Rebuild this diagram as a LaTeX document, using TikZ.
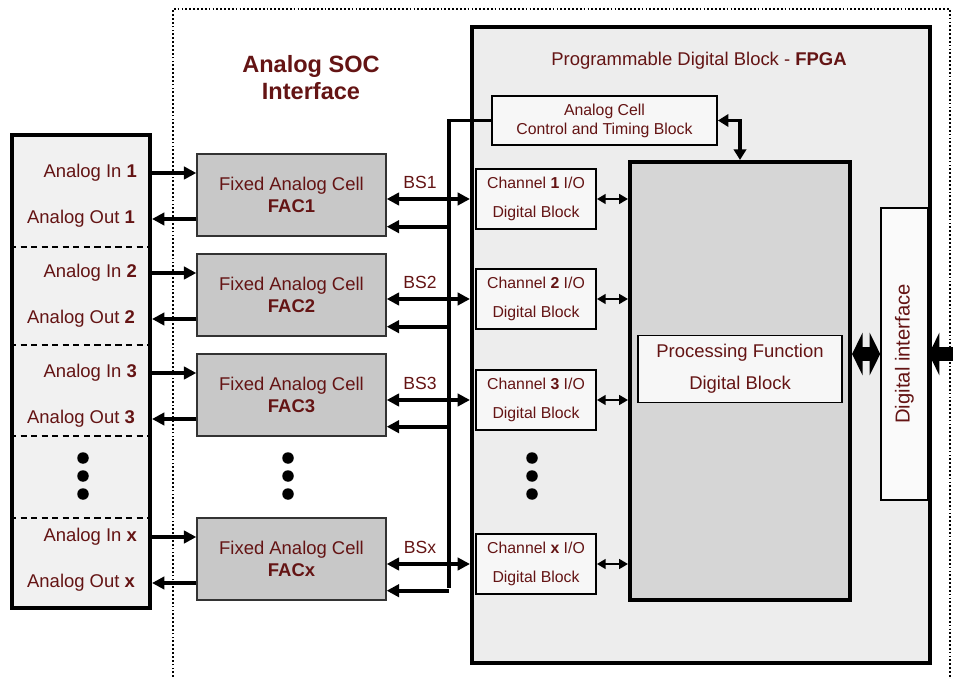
\documentclass[tikz,border=0pt]{standalone}
\usepackage{fontspec}
\setmainfont{Liberation Sans}
\usepackage{tikz}
\usetikzlibrary{arrows.meta,positioning,calc}
\definecolor{socred}{RGB}{100,20,20}
\definecolor{cellgray}{RGB}{200,200,200}
\definecolor{fpgagray}{RGB}{237,237,237}
\definecolor{procgray}{RGB}{214,214,214}
\definecolor{iogray}{RGB}{241,241,241}

\begin{document}
\begin{tikzpicture}[x=0.2mm, y=-0.2mm,
        txt/.style={text=socred, font=\fontsize{10.5}{12.6}\selectfont, inner sep=1pt},
        bigbox/.style={draw, line width=2.3pt},
        cellbox/.style={draw=black!80, line width=0.8pt, fill=cellgray, align=center, minimum width=37.8mm, minimum height=16.4mm, text=socred, font=\fontsize{10.5}{12.5}\selectfont},
        chanbox/.style={draw, line width=1pt, fill=white!97!black, align=center, minimum width=24mm, minimum height=12mm, text=socred, font=\fontsize{9}{16.5}\selectfont},
        sig/.style={line width=2.2pt, -{Triangle[length=7pt,width=7pt]}},
        dbl/.style={line width=1.4pt, {Triangle[length=5pt,width=5.5pt]}-{Triangle[length=5pt,width=5.5pt]}},
        fat/.style={line width=8.5pt, {Triangle[length=6pt,width=24pt]}-{Triangle[length=6pt,width=24pt]}}
    ]
        \useasboundingbox (0,0) rectangle (953,677);

        % FPGA area
        \node[bigbox, fill=fpgagray, minimum width=91.6mm, minimum height=127.2mm] (fpga) at (701,345) {};
        \node[txt] (fpgatitle) at (699,61) {Programmable Digital Block - \textbf{FPGA}};

        % Interface frame
        \draw[line width=1.2pt, dash pattern=on 1pt off 1.2pt] (173,677) -- (173,9) -- (950,9) -- (950,677);
        \node[txt, align=center, font=\fontsize{13.4}{15.3}\selectfont\bfseries] (soctitle) at (311,78) {Analog SOC\\Interface};

        % Analog pins
        \node[bigbox, fill=iogray, minimum width=27.6mm, minimum height=94.6mm] (io) at (81,371.5) {};
        \foreach \sy in {247,345,436,518}
            \draw[line width=0.9pt, dash pattern=on 3.5pt off 2.5pt] (10,\sy) -- (148,\sy);

        % Blocks inside the FPGA
        \node[bigbox, fill=procgray, minimum width=44mm, minimum height=87.6mm] (proc) at (740,381) {};
        \node[draw, line width=1pt, fill=white!97!black, minimum width=40.8mm, minimum height=13.4mm, align=center, text=socred, font=\fontsize{10.5}{18}\selectfont] (pfunc) at (740,369) {Processing Function\\Digital Block};
        \node[draw, line width=1pt, fill=white!97!black, minimum width=45mm, minimum height=9.8mm, align=center, text=socred, font=\fontsize{9}{10.8}\selectfont] (acc) at (604.5,120.5) {Analog Cell\\Control and Timing Block};
        \node[draw, line width=0.9pt, fill=white!98!black, minimum width=9.4mm, minimum height=58.4mm, text=socred, font=\fontsize{11.5}{13}\selectfont] (dif) at (904.5,354) {\rotatebox{90}{Digital interface}};

        % Bus
        \coordinate (busbot) at (449,588);
        \draw[line width=2.2pt] (acc.west) -| (busbot);
        \draw[line width=1.8pt, {Triangle[length=6pt,width=7pt]}-{Triangle[length=6pt,width=7pt]}] (acc.east) -| (proc.north);

        % Channels
        \foreach \i/\fy/\cy in {1/195/199, 2/295/299, 3/395/400, x/559/564} {
            \node[cellbox] (fac\i) at (291.5,\fy) {Fixed Analog Cell\\\textbf{FAC\i}};
            \node[chanbox] (ch\i) at (536,\cy) {Channel \textbf{\i} I/O\\Digital Block};
            \node[txt, anchor=east] (in\i) at (139,{\fy-22}) {Analog In \textbf{\i}};
            \node[txt, anchor=east] (out\i) at (137,{\fy+24}) {Analog Out \textbf{\i}};
            \node[txt, font=\fontsize{10}{12}\selectfont] (bs\i) at (420,{\cy-17}) {BS\i};
            \coordinate (ret\i) at ([yshift=5.7pt]fac\i.south east);

            \draw[sig] (io.east |- in\i) -- (fac\i.west |- in\i);
            \draw[sig] (fac\i.west |- out\i) -- (io.east |- out\i);
            \draw[line width=2.2pt, {Triangle[length=7pt,width=7pt]}-{Triangle[length=7pt,width=7pt]}] (fac\i.east |- ch\i) -- (fpga.west |- ch\i);
            \draw[sig] (ret\i -| busbot) -- (ret\i);
            \draw[dbl] (ch\i.east) -- (proc.west |- ch\i.east);
        }

        % Dots
        \foreach \dx in {83,288,532}
            \foreach \dy in {458,476,494}
                \fill (\dx,\dy) circle[radius=1.15mm];

        % Digital side
        \coordinate (extin) at (953,354);
        \draw[fat] (proc.east |- dif.west) -- (dif.west);
        \draw[line width=8.5pt, -{Triangle[length=6pt,width=24pt]}] (extin) -- (dif.east);
\end{tikzpicture}
\end{document}
